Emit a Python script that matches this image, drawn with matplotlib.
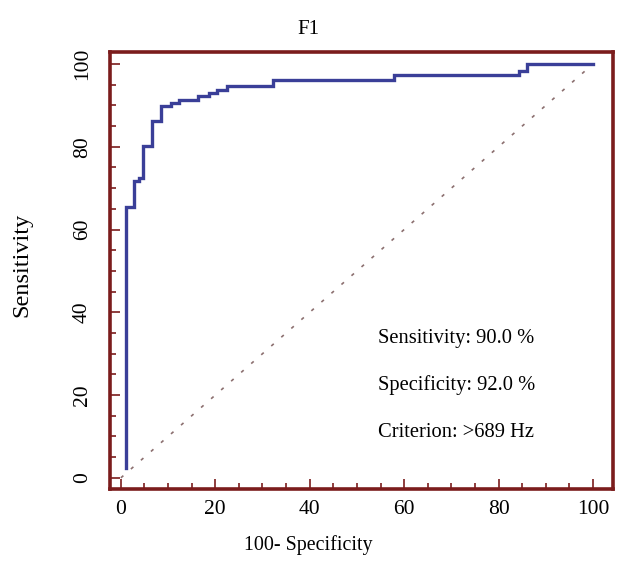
import matplotlib.pyplot as plt
from matplotlib.ticker import MultipleLocator

# ROC curve vertices (100 - specificity, sensitivity)
fpr = [1, 1, 2.8, 2.8, 3.8, 3.8, 4.6, 4.6, 6.6, 6.6, 8.5, 8.5, 10.6, 10.6,
       12.4, 12.4, 16.4, 16.4, 18.7, 18.7, 20.3, 20.3, 22.4, 22.4, 32.3, 32.3,
       57.8, 57.8, 84.3, 84.3, 86.1, 86.1, 100]
tpr = [2.5, 65.5, 65.5, 71.8, 71.8, 72.4, 72.4, 80.2, 80.2, 86.2, 86.2, 89.9,
       89.9, 90.5, 90.5, 91.2, 91.2, 92.3, 92.3, 93.0, 93.0, 93.7, 93.7, 94.6,
       94.6, 96.1, 96.1, 97.4, 97.4, 98.4, 98.4, 99.9, 99.9]
chance_x = [0, 100]
chance_y = [0, 100]

title = "F1"
xlabel = "100- Specificity"
ylabel = "Sensitivity"
stats = ["Sensitivity: 90.0 %", "Specificity: 92.0 %", "Criterion: >689 Hz"]

plt.rcParams["font.family"] = ["Liberation Serif", "DejaVu Serif"]

fig = plt.figure(figsize=(6.19, 5.63), dpi=100)
ax = fig.add_axes([0.1777, 0.1314, 0.8123, 0.7762])

frame_color = "#7b1c1c"
ax.plot(fpr, tpr, color="#3a3f98", linewidth=2.4, solid_joinstyle="miter", zorder=3)
ax.plot(chance_x, chance_y, color="#8c7070", linewidth=1.2,
        linestyle=(0, (2, 6)), zorder=2)

ax.set_xlim(-2.3, 104.2)
ax.set_ylim(-2.7, 102.9)
ax.xaxis.set_major_locator(MultipleLocator(20))
ax.xaxis.set_minor_locator(MultipleLocator(5))
ax.yaxis.set_major_locator(MultipleLocator(20))
ax.yaxis.set_minor_locator(MultipleLocator(5))
ax.tick_params(which="both", direction="in", color=frame_color, width=1.2,
               labelsize=15.5)
ax.tick_params(which="major", length=7)
ax.tick_params(which="minor", length=4)
ax.tick_params(axis="x", which="major", pad=8)
ax.tick_params(axis="y", which="major", pad=13)
for lbl in ax.get_yticklabels():
    lbl.set_rotation(90)
    lbl.set_va("center")

for sp in ax.spines.values():
    sp.set_color(frame_color)
    sp.set_linewidth(2.6)

for i, s in enumerate(stats):
    ax.text(0.533, 0.345 - i * 0.108, s, transform=ax.transAxes,
            fontsize=14.8, va="center", ha="left")

fig.text(0.498, 0.947, title, fontsize=15, ha="center", va="center")
fig.text(0.498, 0.032, xlabel, fontsize=14.4, ha="center", va="center")
fig.text(0.036, 0.529, ylabel, fontsize=17.5, ha="center", va="center", rotation=90)

fig.savefig("out.png", dpi=100)
